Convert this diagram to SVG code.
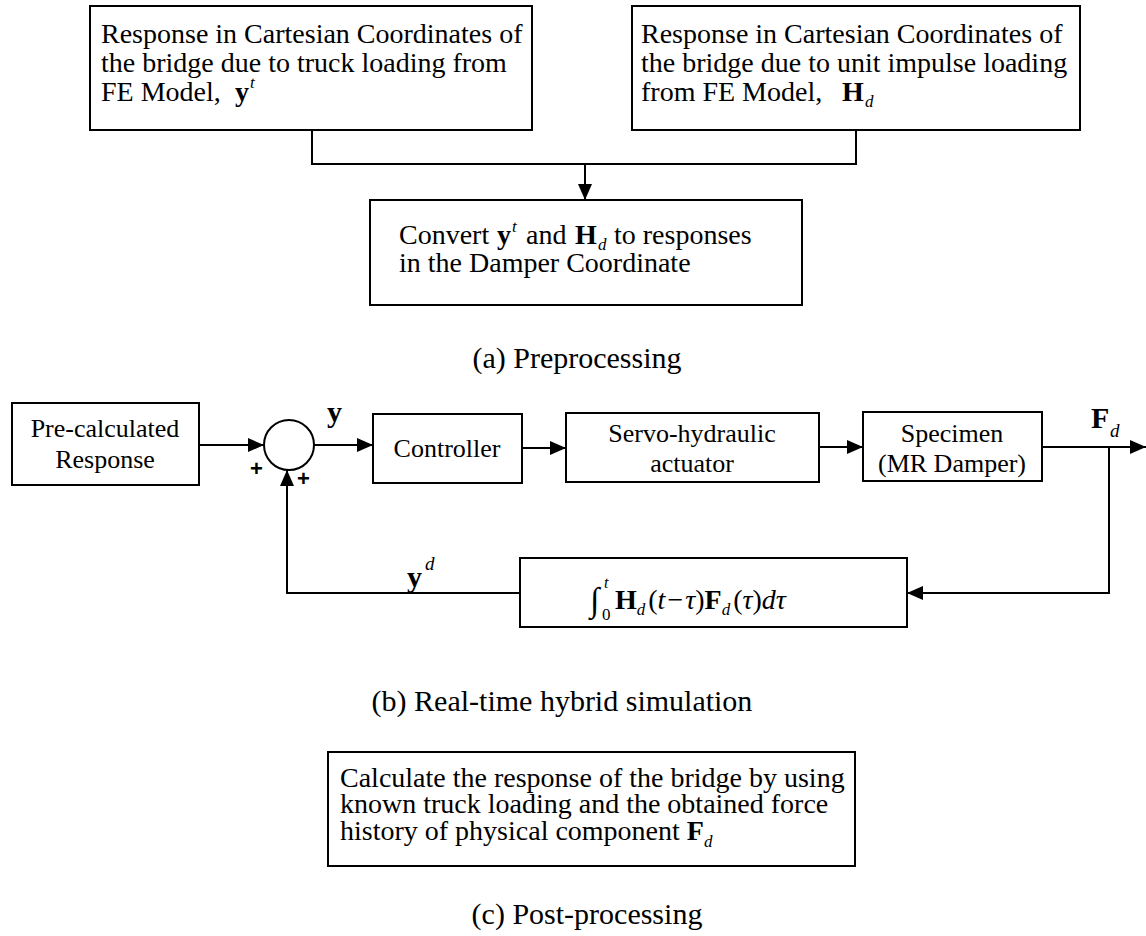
<svg xmlns="http://www.w3.org/2000/svg" width="1146" height="936" viewBox="0 0 1146 936">
<style>
.box{fill:#fff;stroke:#000;stroke-width:2}
.ln{fill:none;stroke:#000;stroke-width:2}
.t{font-family:"Liberation Serif","Times New Roman",serif;font-size:28px;fill:#000}
.c{text-anchor:middle}
.cap{font-family:"Liberation Serif","Times New Roman",serif;font-size:30px;fill:#000;text-anchor:middle}
.b{font-weight:bold}
.i{font-style:italic}
.s{font-size:17px}
.p{font-family:"Liberation Sans",Arial,sans-serif;font-weight:bold;font-size:22px}
</style>
<defs>
<marker id="ah" viewBox="0 0 16 14" refX="16" refY="7" markerWidth="16" markerHeight="14" markerUnits="userSpaceOnUse" orient="auto">
<path d="M0,0 L16,7 L0,14 z" fill="#000"/>
</marker>
</defs>

<g id="connectors">
<path class="ln" d="M312,130 V164 H856 V130"/>
<path class="ln" d="M585,164 V200" marker-end="url(#ah)"/>
<path class="ln" d="M199,445 H264" marker-end="url(#ah)"/>
<path class="ln" d="M314,445 H373" marker-end="url(#ah)"/>
<path class="ln" d="M522,448 H566" marker-end="url(#ah)"/>
<path class="ln" d="M819,447 H863" marker-end="url(#ah)"/>
<path class="ln" d="M1042,447 H1146" marker-end="url(#ah)"/>
<path class="ln" d="M1109,447 V593 H907" marker-end="url(#ah)"/>
<path class="ln" d="M520,593 H287 V470" marker-end="url(#ah)"/>
</g>

<g id="box-yt">
<rect class="box" x="90" y="6" width="442" height="124"/>
<text class="t" x="101" y="43">Response in Cartesian Coordinates of</text>
<text class="t" x="101" y="72">the bridge due to truck loading from</text>
<text class="t" x="101" y="101">FE Model,</text>
<text class="t b" x="235" y="101">y</text>
<text class="t i s" x="250" y="88">t</text>
</g>

<g id="box-hd">
<rect class="box" x="632" y="6" width="448" height="124"/>
<text class="t" x="641" y="43">Response in Cartesian Coordinates of</text>
<text class="t" x="641" y="72">the bridge due to unit impulse loading</text>
<text class="t" x="641" y="101">from FE Model,</text>
<text class="t b" x="842" y="101">H</text>
<text class="t i s" x="865" y="107">d</text>
</g>

<g id="box-convert">
<rect class="box" x="370" y="200" width="432" height="105"/>
<text class="t" x="399" y="244">Convert</text>
<text class="t b" x="497" y="244">y</text>
<text class="t i s" x="512" y="232">t</text>
<text class="t" x="526" y="244">and</text>
<text class="t b" x="575" y="244">H</text>
<text class="t i s" x="598" y="250">d</text>
<text class="t" x="614" y="244">to responses</text>
<text class="t" x="399" y="272">in the Damper Coordinate</text>
</g>

<text id="cap-a" class="cap" x="577" y="368">(a) Preprocessing</text>

<g id="box-precalc">
<rect class="box" x="12" y="403" width="187" height="82"/>
<text class="t c" x="105" y="437" style="font-size:26px">Pre-calculated</text>
<text class="t c" x="105" y="468" style="font-size:26px">Response</text>
</g>

<g id="sum">
<circle cx="289" cy="445" r="25" fill="#fff" stroke="#000" stroke-width="2"/>
<text class="p" x="250" y="476">+</text>
<text class="p" x="297" y="486">+</text>
<text class="t b" x="327" y="422" style="font-size:30px">y</text>
</g>

<g id="box-controller">
<rect class="box" x="373" y="414" width="149" height="69"/>
<text class="t c" x="447" y="457" style="font-size:26px">Controller</text>
</g>

<g id="box-servo">
<rect class="box" x="566" y="413" width="253" height="69"/>
<text class="t c" x="692" y="442" style="font-size:26px">Servo-hydraulic</text>
<text class="t c" x="692" y="472" style="font-size:26px">actuator</text>
</g>

<g id="box-specimen">
<rect class="box" x="863" y="412" width="179" height="69"/>
<text class="t c" x="952" y="442" style="font-size:26px">Specimen</text>
<text class="t c" x="952" y="472" style="font-size:26px">(MR Damper)</text>
</g>

<g id="label-fd">
<text class="t b" x="1091" y="428" style="font-size:30px">F</text>
<text class="t i" x="1110" y="437" style="font-size:19px">d</text>
</g>

<g id="label-yd">
<text class="t b" x="407" y="587" style="font-size:30px">y</text>
<text class="t i" x="425" y="570" style="font-size:19px">d</text>
</g>

<g id="box-integral">
<rect class="box" x="520" y="558" width="387" height="69"/>
<text class="t" x="590" y="611" style="font-size:34px">∫</text>
<text class="t i" x="604" y="588" style="font-size:16px">t</text>
<text class="t" x="602" y="620" style="font-size:17px">0</text>
<text class="t" x="615" y="609"><tspan class="b">H</tspan><tspan class="i" style="font-size:17px" dy="6">d</tspan><tspan dy="-6" dx="3">(</tspan><tspan class="i">t</tspan><tspan dx="2">−</tspan><tspan class="i" dx="2">τ</tspan>)<tspan class="b">F</tspan><tspan class="i" style="font-size:17px" dy="6">d</tspan><tspan dy="-6" dx="3">(</tspan><tspan class="i">τ</tspan>)<tspan class="i">dτ</tspan></text>
</g>

<text id="cap-b" class="cap" x="562" y="711">(b) Real-time hybrid simulation</text>

<g id="box-post">
<rect class="box" x="328" y="752" width="527" height="114"/>
<text class="t" x="340" y="787">Calculate the response of the bridge by using</text>
<text class="t" x="340" y="813">known truck loading and the obtained force</text>
<text class="t" x="340" y="840">history of physical component <tspan class="b">F</tspan><tspan class="i" style="font-size:17px" dy="7">d</tspan></text>
</g>

<text id="cap-c" class="cap" x="587" y="924">(c) Post-processing</text>
</svg>
